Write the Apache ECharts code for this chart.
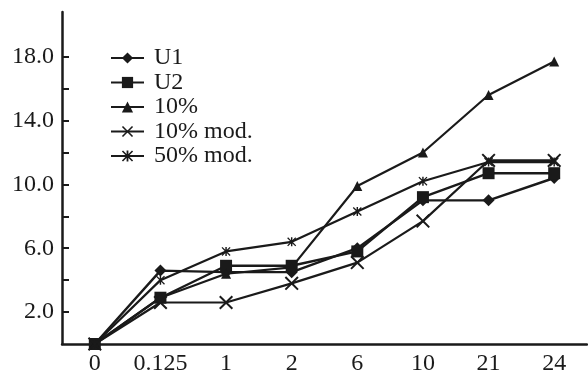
<!DOCTYPE html>
<html>
<head>
<meta charset="utf-8">
<script src="https://cdn.jsdelivr.net/npm/echarts@6/dist/echarts.min.js"></script>
<style>html,body{margin:0;padding:0;background:#fff;}#c{width:588px;height:377px;}</style>
</head>
<body>
<div id="c"></div>
<script>
var categories = ['0', '0.125', '1', '2', '6', '10', '21', '24'];
var seriesNames = ['U1', 'U2', '10%', '10% mod.', '50% mod.'];
var u1 = [0, 4.6, 4.5, 4.5, 6.0, 9.0, 9.0, 10.4];
var u2 = [0, 2.9, 4.9, 4.9, 5.8, 9.2, 10.7, 10.7];
var p10 = [0, 2.9, 4.4, 4.8, 9.9, 12.0, 15.6, 17.7];
var p10mod = [0, 2.6, 2.6, 3.8, 5.1, 7.7, 11.5, 11.5];
var p50mod = [0, 4.0, 5.8, 6.4, 8.3, 10.2, 11.4, 11.4];
var yTickValues = [2, 4, 6, 8, 10, 12, 14, 16, 18];
var yLabelValues = [2, 6, 10, 14, 18];

var ink = '#1a1a1a';
var font = "'Liberation Serif', 'Times New Roman', Times, serif";
var xSym = 'path://M0,1L1,0L5,4L9,0L10,1L6,5L10,9L9,10L5,6L1,10L0,9L4,5Z';
var starSym = 'path://M0,1L1,0L5,4L9,0L10,1L6,5L10,9L9,10L5,6L1,10L0,9L4,5Z M4.2,0L5.8,0L5.8,10L4.2,10Z';

function mk(name, data, symbol, size, lw) {
  return {
    name: name, type: 'line', data: data, symbol: symbol, symbolSize: size,
    showAllSymbol: true, animation: false,
    lineStyle: {color: ink, width: lw},
    itemStyle: {color: ink, borderWidth: 0}
  };
}

var chart = echarts.init(document.getElementById('c'));
chart.setOption({
  animation: false,
  backgroundColor: '#fff',
  grid: {left: 62, right: 1, top: 12, bottom: 33, containLabel: false},
  legend: {
    orient: 'vertical', left: 105, top: 41, itemGap: 0.5,
    itemWidth: 33, itemHeight: 14,
    data: seriesNames,
    textStyle: {fontFamily: font, fontSize: 24, color: ink, lineHeight: 24, padding: [0, 0, 0, 5]}
  },
  xAxis: {
    type: 'category', data: categories, boundaryGap: true,
    axisLine: {lineStyle: {color: ink, width: 2.5}},
    axisTick: {inside: true, length: 7, lineStyle: {color: ink, width: 2}},
    axisLabel: {fontFamily: font, fontSize: 24, color: ink, margin: 8, interval: 0},
    splitLine: {show: false}
  },
  yAxis: {
    type: 'value', min: 0, max: 20.8, interval: 2,
    axisLine: {show: true, lineStyle: {color: ink, width: 2.5}},
    axisTick: {show: true, inside: true, length: 7, lineStyle: {color: ink, width: 2}, customValues: yTickValues},
    axisLabel: {fontFamily: font, fontSize: 24, color: ink, margin: 8, customValues: yLabelValues,
      formatter: function (v) { return v.toFixed(1); }},
    splitLine: {show: false}
  },
  series: [
    mk(seriesNames[0], u1, 'diamond', 12, 2.4),
    mk(seriesNames[1], u2, 'rect', 12, 2.4),
    mk(seriesNames[2], p10, 'triangle', 10, 2.2),
    mk(seriesNames[3], p10mod, xSym, 14, 2.2),
    mk(seriesNames[4], p50mod, starSym, 9, 2.2)
  ]
});
</script>
</body>
</html>
